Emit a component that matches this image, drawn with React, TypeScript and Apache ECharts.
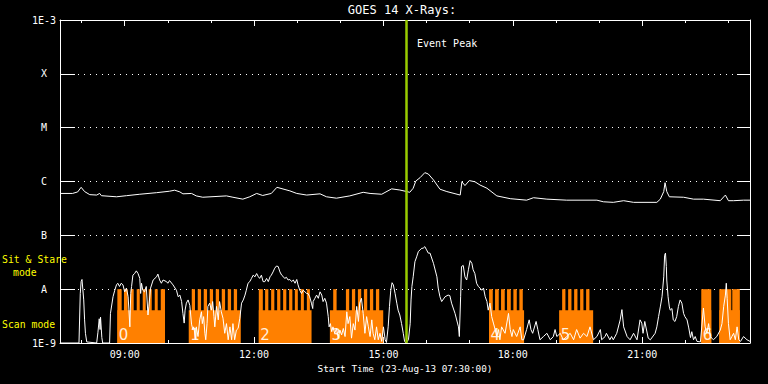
import React, { useEffect, useRef } from 'react';
import * as echarts from 'echarts';

// ---------- data ----------
const X_MIN = 7.5; // 07:30
const X_MAX = 23.5; // 23:30
const majorHours = [9, 12, 15, 18, 21];
const minorHours = [8, 10, 11, 13, 14, 16, 17, 19, 20, 22, 23];
const yLevelLabels = ['1E-9', 'A', 'B', 'C', 'M', 'X', '1E-3'];
const eventPeakHour = 15.54;

// GOES 14 X-ray flux (W/m^2)
const goesTime = [7.50, 7.79, 7.91, 7.99, 8.07, 8.19, 8.35, 8.42, 8.46, 8.81,
  9.04, 9.35, 9.74, 10.04, 10.16, 10.28, 10.35, 10.55, 10.66, 10.81,
  11.36, 11.51, 11.74, 11.90, 12.06, 12.20, 12.40, 12.53, 12.83, 12.99,
  13.22, 13.53, 13.68, 13.91, 14.22, 14.53, 14.69, 14.96, 15.19, 15.38,
  15.54, 15.61, 15.69, 15.75, 15.85, 15.96, 16.04, 16.16, 16.31, 16.47,
  16.78, 16.82, 16.89, 16.99, 17.12, 17.24, 17.40, 17.63, 17.94, 18.32,
  18.48, 18.79, 19.25, 19.95, 20.10, 20.33, 20.57, 20.80, 21.34, 21.42,
  21.50, 21.53, 21.57, 21.63, 21.96, 22.19, 22.42, 22.81, 22.93, 23.00,
  23.12, 23.35, 23.50];
const goesFlux = [6.0e-7, 6.0e-7, 6.4e-7, 7.8e-7, 6.5e-7, 5.7e-7, 5.6e-7, 6.0e-7, 5.45e-7, 5.2e-7,
  5.45e-7, 5.8e-7, 6.2e-7, 6.6e-7, 6.9e-7, 6.4e-7, 5.9e-7, 6.0e-7, 5.4e-7, 5.1e-7,
  5.4e-7, 5.1e-7, 4.7e-7, 5.2e-7, 6.0e-7, 5.5e-7, 6.0e-7, 7.8e-7, 6.7e-7, 6.0e-7,
  5.6e-7, 5.9e-7, 5.2e-7, 4.9e-7, 5.4e-7, 6.3e-7, 6.0e-7, 5.8e-7, 7.3e-7, 6.95e-7,
  6.5e-7, 6.3e-7, 7.5e-7, 1.02e-6, 1.18e-6, 1.46e-6, 1.38e-6, 1.07e-6, 7.2e-7, 6.5e-7,
  5.6e-7, 9.9e-7, 8.4e-7, 1.04e-6, 9.9e-7, 8.6e-7, 7.5e-7, 5.4e-7, 4.8e-7, 4.5e-7,
  5.0e-7, 4.7e-7, 4.5e-7, 4.5e-7, 4.2e-7, 4.1e-7, 4.4e-7, 4.1e-7, 4.1e-7, 4.7e-7,
  6.5e-7, 9.5e-7, 6.5e-7, 5.2e-7, 5.1e-7, 4.7e-7, 4.7e-7, 4.4e-7, 5.6e-7, 4.4e-7,
  4.4e-7, 4.5e-7, 4.5e-7];

// Lower-panel observation curve (relative level, 1 = A line)
const obsTime = [7.50, 7.94, 7.97, 7.99, 8.01, 8.03, 8.05, 8.07, 8.09, 8.12,
  8.35, 8.38, 8.41, 8.43, 8.44, 8.47, 8.49, 8.65, 8.67, 8.73,
  8.77, 8.81, 8.84, 8.88, 8.92, 8.96, 9.00, 9.04, 9.08, 9.12,
  9.14, 9.16, 9.19, 9.23, 9.27, 9.31, 9.35, 9.37, 9.39, 9.42,
  9.46, 9.50, 9.54, 9.56, 9.60, 9.66, 9.74, 9.77, 9.81, 9.85,
  9.89, 9.97, 10.00, 10.04, 10.12, 10.20, 10.24, 10.28, 10.32, 10.35,
  10.38, 10.40, 10.43, 10.47, 10.51, 10.55, 10.58, 10.60, 10.65, 10.66,
  10.70, 10.74, 10.78, 10.80, 10.83, 10.86, 10.88, 10.91, 10.93, 10.97,
  11.01, 11.04, 11.07, 11.09, 11.13, 11.17, 11.20, 11.24, 11.28, 11.32,
  11.36, 11.40, 11.44, 11.48, 11.51, 11.55, 11.59, 11.63, 11.67, 11.71,
  11.75, 11.79, 11.82, 11.86, 11.90, 11.94, 11.98, 12.02, 12.06, 12.10,
  12.13, 12.17, 12.21, 12.25, 12.29, 12.33, 12.37, 12.40, 12.44, 12.48,
  12.52, 12.56, 12.60, 12.64, 12.67, 12.71, 12.75, 12.79, 12.83, 12.87,
  12.91, 12.95, 12.99, 13.02, 13.06, 13.10, 13.14, 13.18, 13.22, 13.25,
  13.29, 13.33, 13.36, 13.37, 13.41, 13.45, 13.49, 13.53, 13.57, 13.60,
  13.64, 13.68, 13.72, 13.74, 13.77, 13.80, 13.83, 13.87, 13.91, 13.95,
  13.99, 14.03, 14.07, 14.11, 14.15, 14.18, 14.22, 14.26, 14.30, 14.34,
  14.38, 14.42, 14.45, 14.49, 14.53, 14.57, 14.61, 14.65, 14.69, 14.73,
  14.76, 14.80, 14.84, 14.88, 14.92, 14.96, 15.00, 15.04, 15.07, 15.11,
  15.14, 15.17, 15.20, 15.23, 15.27, 15.31, 15.34, 15.38, 15.42, 15.46,
  15.49, 15.52, 15.58, 15.62, 15.64, 15.66, 15.69, 15.73, 15.77, 15.81,
  15.85, 15.89, 15.92, 15.96, 16.00, 16.04, 16.08, 16.16, 16.24, 16.27,
  16.31, 16.35, 16.43, 16.50, 16.54, 16.58, 16.66, 16.74, 16.76, 16.79,
  16.81, 16.85, 16.89, 16.93, 16.97, 17.01, 17.05, 17.08, 17.12, 17.16,
  17.20, 17.24, 17.28, 17.32, 17.36, 17.40, 17.43, 17.47, 17.51, 17.55,
  17.59, 17.63, 17.67, 17.70, 17.74, 17.82, 17.90, 17.94, 17.98, 18.01,
  18.09, 18.17, 18.21, 18.25, 18.32, 18.38, 18.42, 18.46, 18.54, 18.58,
  18.63, 18.71, 18.79, 18.87, 18.94, 18.98, 19.02, 19.10, 19.17, 19.25,
  19.33, 19.41, 19.48, 19.56, 19.64, 19.72, 19.79, 19.87, 19.95, 20.03,
  20.06, 20.14, 20.17, 20.25, 20.29, 20.33, 20.41, 20.49, 20.53, 20.57,
  20.65, 20.72, 20.80, 20.88, 20.95, 20.99, 21.02, 21.06, 21.14, 21.19,
  21.30, 21.34, 21.38, 21.42, 21.46, 21.50, 21.52, 21.54, 21.56, 21.57,
  21.60, 21.63, 21.65, 21.69, 21.72, 21.76, 21.80, 21.84, 21.88, 21.92,
  21.96, 21.99, 22.04, 22.08, 22.12, 22.15, 22.19, 22.23, 22.27, 22.35,
  22.42, 22.46, 22.50, 22.54, 22.58, 22.65, 22.73, 22.81, 22.85, 22.89,
  22.93, 22.95, 22.97, 23.00, 23.04, 23.08, 23.12, 23.16, 23.20, 23.24,
  23.28, 23.35, 23.43, 23.50];
const obsLevel = [0, 0, 0.92, 1.14, 1.18, 0.99, 0.80, 0.43, 0.18, 0.02,
  0, 0.20, 0.45, 0.25, 0.48, 0.10, 0, 0, 0.55, 0.86,
  0.98, 1.08, 1.11, 1.05, 1.11, 1.08, 0.95, 1.02, 0.86, 0.30,
  0.92, 1.05, 1.26, 1.29, 1.34, 1.29, 1.20, 0.92, 1.11, 0.98,
  0.95, 1.05, 0.52, 0.67, 1.02, 1.17, 1.23, 1.28, 1.17, 1.11,
  1.17, 1.14, 1.11, 1.16, 1.08, 0.98, 0.86, 0.89, 0.77, 0.55,
  0.37, 0.61, 0.74, 0.80, 0.70, 0.35, 0.25, 0.30, 0.06, 0.30,
  0.12, 0.43, 0.58, 0.36, 0.49, 0.18, 0.06, 0.36, 0.68, 0.74,
  0.61, 0.77, 0.49, 0.30, 0.68, 0.43, 0.77, 0.58, 0.46, 0.18,
  0.36, 0.06, 0.30, 0.06, 0.36, 0.06, 0.24, 0.27, 0.46, 0.74,
  0.80, 0.89, 0.98, 1.11, 1.14, 1.20, 1.26, 1.23, 1.29, 1.23,
  1.20, 1.26, 1.14, 1.14, 1.20, 1.14, 1.23, 1.26, 1.32, 1.39,
  1.43, 1.42, 1.32, 1.26, 1.24, 1.20, 1.22, 1.17, 1.18, 1.14,
  1.17, 1.11, 1.18, 1.08, 0.98, 0.92, 0.98, 0.95, 0.92, 0.92,
  0.86, 0.74, 0.64, 0.77, 0.83, 0.89, 0.83, 0.95, 0.89, 0.77,
  0.83, 0.74, 0.49, 0.30, 0.36, 0.21, 0.30, 0.18, 0.27, 0.09,
  0.24, 0.15, 0.27, 0.12, 0.58, 0.36, 0.49, 0.09, 0.36, 0.24,
  0.68, 0.40, 0.74, 0.83, 0.55, 0.18, 0.49, 0.30, 0.12, 0.43,
  0.18, 0.06, 0.30, 0.06, 0.18, 0.03, 0.30, 0.06, 0.01, 0.30,
  0.68, 0.98, 1.12, 1.08, 0.92, 0.74, 0.61, 0.52, 0.36, 0.18,
  0.03, 0, 0.06, 0.36, 0.80, 1.05, 1.23, 1.51, 1.60, 1.70,
  1.73, 1.76, 1.76, 1.79, 1.73, 1.67, 1.67, 1.48, 1.23, 1.02,
  0.86, 0.77, 0.86, 0.89, 0.88, 0.74, 0.55, 0.30, 0.12, 0.86,
  1.42, 1.44, 1.23, 1.17, 1.36, 1.53, 1.48, 1.36, 1.29, 1.11,
  1.05, 1.02, 0.98, 1.02, 0.86, 0.77, 0.61, 0.74, 0.49, 0.37,
  0.25, 0.12, 0.25, 0.06, 0.30, 0.18, 0.55, 0.25, 0.12, 0.25,
  0.12, 0.30, 0.06, 0.06, 0.25, 0.43, 0.25, 0.18, 0.40, 0.25,
  0.06, 0.12, 0.18, 0.06, 0.12, 0.25, 0.12, 0.18, 0.06, 0.12,
  0.18, 0.06, 0.25, 0.09, 0.18, 0.12, 0.30, 0.06, 0.12, 0.25,
  0.06, 0.12, 0.18, 0.06, 0.12, 0.06, 0.18, 0.43, 0.62, 0.30,
  0.12, 0.06, 0.18, 0.06, 0.43, 0.37, 0.18, 0.40, 0.09, 0.06,
  0.18, 0.30, 0.49, 0.67, 0.86, 1.23, 1.63, 1.67, 1.42, 1.17,
  0.86, 0.67, 0.61, 0.64, 0.43, 0.40, 0.49, 0.68, 0.80, 0.74,
  0.55, 0.49, 0.43, 0.28, 0.10, 0.21, 0.06, 0.12, 0.03, 0.02,
  0.65, 0.30, 0.18, 0.36, 0.12, 0.06, 0.12, 0.24, 0.36, 0.68,
  0.89, 1.11, 0.83, 0.36, 0.06, 0.12, 0.18, 0.06, 0.30, 0.06,
  0.03, 0.12, 0.06, 0.03];

// Observing mode blocks (hours)
const SCAN_LEVEL = 0.61;
const STARE_LEVEL = 1.0;
const scanStart = [8.830, 10.485, 12.110, 13.758, 17.449, 19.074, 22.370, 22.788];
const scanEnd = [9.935, 11.692, 13.333, 14.995, 18.261, 19.863, 22.602, 23.264];
const scanLabel = ['0', '1', '2', '3', '4', '5', '6', ''];
const stareStart = [8.830, 8.983, 9.140, 9.279, 9.418, 9.557, 9.697, 9.836,
  10.555, 10.694, 10.833, 10.973, 11.112, 11.251, 11.390, 11.530,
  12.110, 12.256, 12.396, 12.535, 12.674, 12.813, 12.946, 13.085, 13.224,
  13.835, 14.130, 14.269, 14.408, 14.547, 14.686, 14.826,
  17.449, 17.588, 17.727, 17.866, 18.013, 18.152,
  19.144, 19.283, 19.422, 19.561, 19.700,
  22.370, 22.788, 23.089];
const stareEnd = [8.930, 9.070, 9.209, 9.349, 9.488, 9.627, 9.766, 9.935,
  10.631, 10.771, 10.910, 11.049, 11.188, 11.328, 11.467, 11.606,
  12.203, 12.331, 12.470, 12.609, 12.748, 12.888, 13.015, 13.155, 13.294,
  13.914, 14.206, 14.345, 14.485, 14.624, 14.763, 14.902,
  17.535, 17.674, 17.813, 17.953, 18.092, 18.231,
  19.220, 19.360, 19.499, 19.638, 19.777,
  22.602, 23.066, 23.264];

const MONO = '"DejaVu Sans Mono", "Liberation Mono", monospace';
const hourFmt = (v: number) => String(Math.round(v)).padStart(2, '0') + ':00';

export default function App() {
  const ref = useRef<HTMLDivElement>(null);
  useEffect(() => {
    document.body.style.margin = '0';
    const chart = echarts.init(ref.current!, null, { renderer: 'svg' });
    const white = '#ffffff';
    const gridDef = { left: 60, right: 18, top: 20, bottom: 41, containLabel: false, outerBoundsMode: 'none' } as any;

    const xBase = { type: 'value', min: X_MIN, max: X_MAX, splitLine: { show: false } };
    const rectItem = (params: any, api: any) => {
      const p0 = api.coord([api.value(0), api.value(2)]);
      const p1 = api.coord([api.value(1), 0]);
      return {
        type: 'rect',
        shape: { x: p0[0], y: p0[1], width: p1[0] - p0[0], height: p1[1] - p0[1] },
        style: { fill: '#ff8000' },
      };
    };

    const option: any = {
      animation: false,
      backgroundColor: '#000000',
      textStyle: { fontFamily: MONO },
      grid: gridDef,
      xAxis: [
        {
          ...xBase, position: 'bottom',
          axisLine: { show: true, lineStyle: { color: white, width: 1 } },
          axisTick: { show: true, inside: true, length: 6, customValues: majorHours, lineStyle: { color: white } },
          axisLabel: { show: true, customValues: majorHours, formatter: hourFmt, color: white, fontSize: 10, fontFamily: MONO, margin: 6 },
        },
        {
          ...xBase, position: 'bottom',
          axisLine: { show: false },
          axisTick: { show: true, inside: true, length: 3, customValues: minorHours, lineStyle: { color: white } },
          axisLabel: { show: false, customValues: minorHours },
        },
        {
          ...xBase, position: 'top',
          axisLine: { show: true, lineStyle: { color: white, width: 1 } },
          axisTick: { show: true, inside: true, length: 6, customValues: majorHours, lineStyle: { color: white } },
          axisLabel: { show: false, customValues: majorHours },
        },
        {
          ...xBase, position: 'top',
          axisLine: { show: false },
          axisTick: { show: true, inside: true, length: 3, customValues: minorHours, lineStyle: { color: white } },
          axisLabel: { show: false, customValues: minorHours },
        },
      ],
      yAxis: [
        {
          type: 'log', logBase: 10, min: 1e-9, max: 1e-3, interval: 1, position: 'left',
          axisLine: { show: true, lineStyle: { color: white, width: 1 } },
          axisTick: { show: true, inside: true, length: 15, lineStyle: { color: white } },
          axisLabel: {
            show: true, color: white, fontSize: 10, fontFamily: MONO, align: 'center', margin: 16,
            formatter: (v: number) => yLevelLabels[Math.round(Math.log10(v)) + 9] ?? '',
          },
          splitLine: { show: true, lineStyle: { color: white, width: 1, type: [1, 5] } },
        },
        {
          type: 'log', logBase: 10, min: 1e-9, max: 1e-3, interval: 1, position: 'right',
          axisLine: { show: true, lineStyle: { color: white, width: 1 } },
          axisTick: { show: true, inside: true, length: 13, lineStyle: { color: white } },
          axisLabel: { show: false },
          splitLine: { show: false },
        },
        { type: 'value', min: 0, max: 6, show: false, splitLine: { show: false } },
      ],
      series: [
        {
          type: 'custom', name: 'scan', xAxisIndex: 0, yAxisIndex: 2,
          data: scanStart.map((s, i) => [s, scanEnd[i], SCAN_LEVEL]),
          encode: { x: [0, 1], y: 2 },
          renderItem: rectItem,
          z: 1,
        },
        {
          type: 'custom', name: 'stare', xAxisIndex: 0, yAxisIndex: 2,
          data: stareStart.map((s, i) => [s, stareEnd[i], STARE_LEVEL]),
          encode: { x: [0, 1], y: 2 },
          renderItem: rectItem,
          z: 1,
        },
        {
          type: 'custom', name: 'block labels', xAxisIndex: 0, yAxisIndex: 2,
          data: scanStart.map((s, i) => [s, 0, i]),
          encode: { x: 0, y: 1 },
          clip: false,
          renderItem: (params: any, api: any) => {
            const label = scanLabel[params.dataIndex];
            if (!label) return null;
            const base = api.coord([api.value(0), api.value(1)]);
            return {
              type: 'text',
              x: base[0] + 1.5,
              y: base[1] - 16,
              style: {
                text: label,
                fill: '#ffeedd',
                fontSize: 15,
                fontFamily: 'DejaVu Sans',
                align: 'left',
                verticalAlign: 'top',
              },
            };
          },
          z: 2,
        },
        {
          type: 'line', name: 'obs', xAxisIndex: 0, yAxisIndex: 2,
          data: obsTime.map((t, i) => [t, obsLevel[i]]),
          showSymbol: false, symbol: 'none',
          lineStyle: { color: white, width: 1 },
          z: 3,
        },
        {
          type: 'line', name: 'GOES 14', xAxisIndex: 0, yAxisIndex: 0,
          data: goesTime.map((t, i) => [t, goesFlux[i]]),
          showSymbol: false, symbol: 'none',
          lineStyle: { color: white, width: 1 },
          z: 3,
          markLine: {
            silent: true, symbol: ['none', 'none'], label: { show: false },
            lineStyle: { color: '#99cc00', width: 2.5, type: 'solid' },
            data: [{ xAxis: eventPeakHour }],
            z: 4,
          },
        },
      ],
      graphic: [
        { type: 'text', x: 402, y: 10, style: { text: 'GOES 14 X-Rays:', fill: white, font: `12px ${MONO}`, align: 'center', verticalAlign: 'middle' } },
        { type: 'text', x: 417, y: 43, style: { text: 'Event Peak', fill: white, font: `10px ${MONO}`, align: 'left', verticalAlign: 'middle' } },
        { type: 'text', x: 2, y: 259, style: { text: 'Sit & Stare', fill: '#ffff00', font: `9.8px ${MONO}`, align: 'left', verticalAlign: 'middle' } },
        { type: 'text', x: 13, y: 272, style: { text: 'mode', fill: '#ffff00', font: `9.8px ${MONO}`, align: 'left', verticalAlign: 'middle' } },
        { type: 'text', x: 2, y: 324, style: { text: 'Scan mode', fill: '#ffff00', font: `9.8px ${MONO}`, align: 'left', verticalAlign: 'middle' } },
        { type: 'text', x: 405, y: 368, style: { text: 'Start Time (23-Aug-13 07:30:00)', fill: white, font: `9.4px ${MONO}`, align: 'center', verticalAlign: 'middle' } },
      ],
    };
    chart.setOption(option);
    return () => chart.dispose();
  }, []);
  return (
    <div
      ref={ref}
      style={{ position: 'fixed', left: 0, top: 0, width: 768, height: 384, background: '#000' }}
    />
  );
}
